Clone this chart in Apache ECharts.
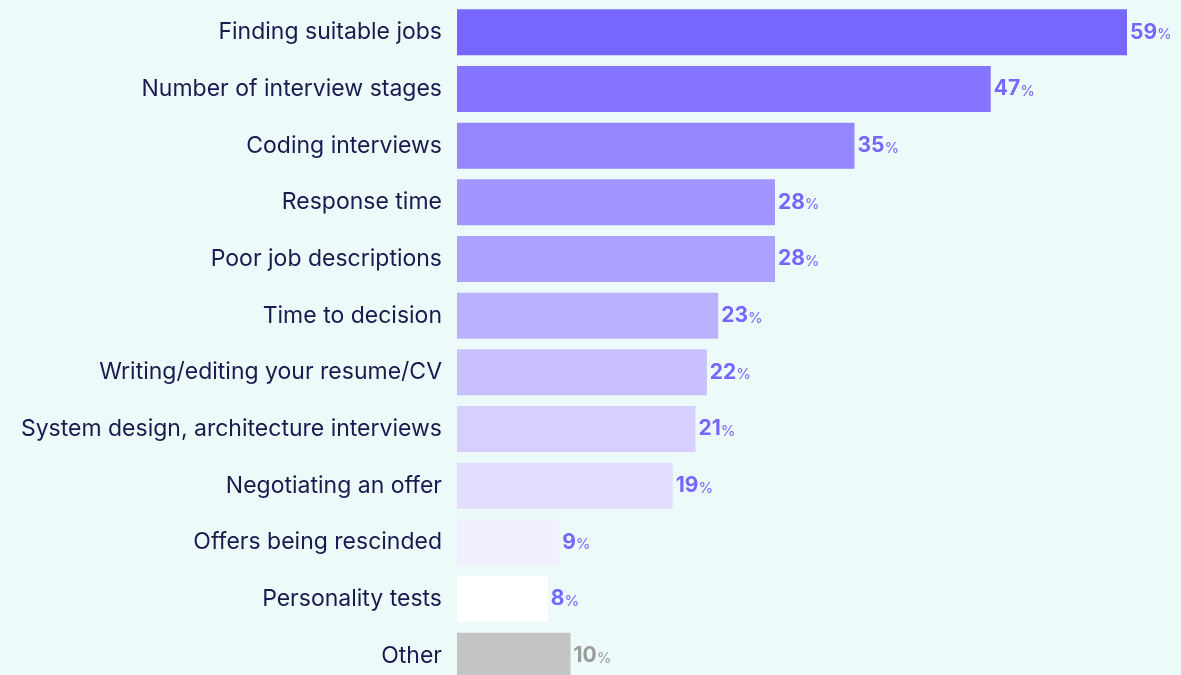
<!DOCTYPE html>
<html>
<head>
<meta charset="utf-8">
<script src="https://cdn.jsdelivr.net/npm/echarts@6/dist/echarts.min.js"></script>
<style>
  html, body { margin: 0; padding: 0; background: #ECFAFA; overflow: hidden; }
  #chart { width: 1181px; height: 690px; }
</style>
</head>
<body>
<div id="chart"></div>
<script>
// Biggest hiring-process pain points, share of respondents (%)
const categories = [
  'Finding suitable jobs',
  'Number of interview stages',
  'Coding interviews',
  'Response time',
  'Poor job descriptions',
  'Time to decision',
  'Writing/editing your resume/CV',
  'System design, architecture interviews',
  'Negotiating an offer',
  'Offers being rescinded',
  'Personality tests',
  'Other'
];
const values = [59, 47, 35, 28, 28, 23, 22, 21, 19, 9, 8, 10];
const barColors = [
  '#7766FF', '#8676FF', '#9486FF', '#A295FF', '#ADA2FF', '#BBB2FF',
  '#C8C0FF', '#D6CFFF', '#E3DEFF', '#F1EEFF', '#FFFFFF', '#C4C4C4'
];

const chart = echarts.init(document.getElementById('chart'), null, { renderer: 'canvas' });

const seriesData = values.map((v, i) => ({
  value: v,
  itemStyle: { color: barColors[i] },
  label: categories[i] === 'Other'
    ? { rich: { n: { color: '#9A9A9A' }, p: { color: '#9A9A9A' } } }
    : {}
}));

chart.setOption({
  backgroundColor: '#ECFAFA',
  animation: false,
  grid: { left: 457, width: 670, top: 4, height: 680 },
  xAxis: {
    type: 'value', min: 0, max: 59,
    show: false
  },
  yAxis: {
    type: 'category',
    data: categories,
    inverse: true,
    axisLine: { show: false },
    axisTick: { show: false },
    splitLine: { show: false },
    axisLabel: {
      margin: 15,
      color: '#1B1A4E',
      fontFamily: 'Inter, "Noto Sans", sans-serif',
      fontSize: 23
    }
  },
  series: [{
    type: 'bar',
    barWidth: 46,
    data: seriesData,
    label: {
      show: true,
      position: 'right',
      distance: 3,
      formatter: p => '{n|' + p.value + '}{p|%}',
      rich: {
        n: { color: '#7766FF', fontFamily: 'Inter, sans-serif', fontWeight: 'bold', fontSize: 21 },
        p: { color: '#7766FF', fontFamily: 'Inter, sans-serif', fontSize: 15, padding: [5, 0, 0, 0] }
      }
    }
  }]
});
</script>
</body>
</html>
